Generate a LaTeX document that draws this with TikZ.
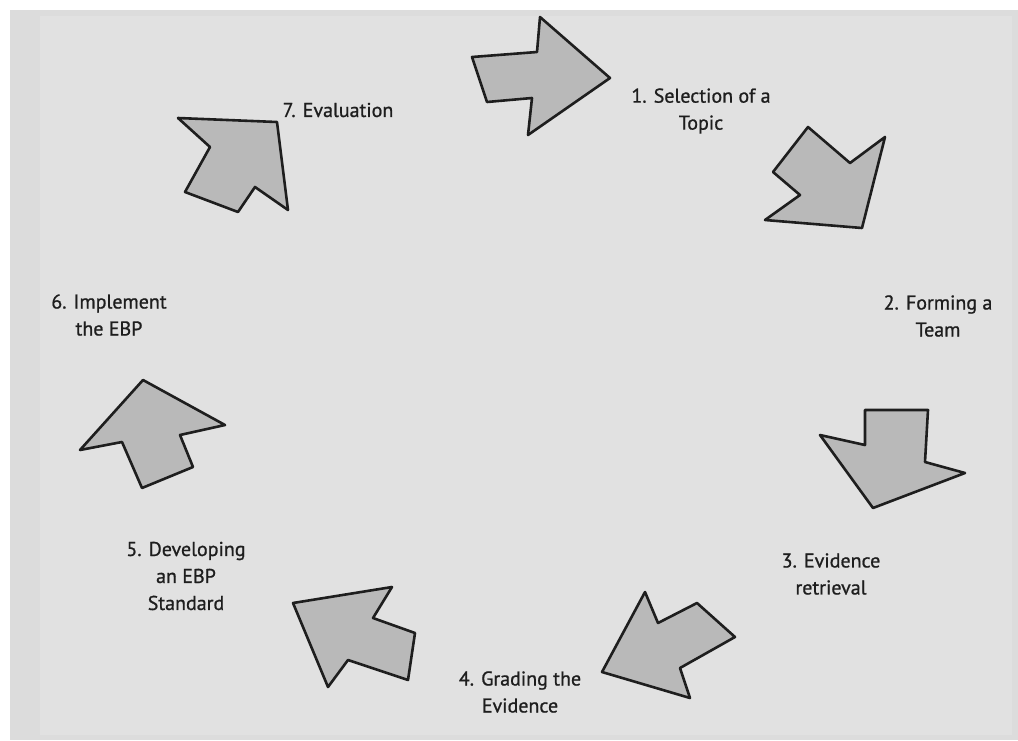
\documentclass[tikz,border=0pt]{standalone}
\usepackage{fontspec}
\setmainfont{PT Sans}
\newfontfamily\lblfont{PT Sans}[FakeBold=0.9]
\definecolor{panel}{HTML}{DCDCDC}
\definecolor{inner}{HTML}{E1E1E1}
\definecolor{arrowfill}{HTML}{B9B9B9}
\definecolor{ink}{HTML}{1E1E1E}
\begin{document}
\begin{tikzpicture}[x=1pt,y=-1pt,
  blockarrow/.style={fill=arrowfill,draw=ink,line width=2.6pt,line join=round},
  lbl/.style={text=ink,font=\lblfont\fontsize{20}{27}\selectfont,align=center,inner sep=0pt}]
\useasboundingbox (0,0) rectangle (1018,740);
\fill[white] (0,0) rectangle (1018,740);
\fill[panel] (10,10) rectangle (1018,740);
\fill[inner] (40,16) rectangle (1012,735);
% arrow 1
\draw[blockarrow] (472,57) -- (537,52) -- (540,17) -- (610,78) -- (528,135) -- (532,98) -- (487,102) -- cycle;
% arrow 2
\draw[blockarrow] (808,127) -- (850,163) -- (885,137) -- (862,228) -- (765,220) -- (800,195) -- (773,172) -- cycle;
% arrow 3
\draw[blockarrow] (865,410) -- (928,410) -- (925,462) -- (965,473) -- (873,508) -- (820,435) -- (865,445) -- cycle;
% arrow 4
\draw[blockarrow] (697,603) -- (735,637) -- (680,668) -- (690,698) -- (602,672) -- (645,592) -- (658,623) -- cycle;
% arrow 5
\draw[blockarrow] (415,633) -- (408,680) -- (348,660) -- (328,687) -- (293,603) -- (392,587) -- (373,618) -- cycle;
% arrow 6
\draw[blockarrow] (193,467) -- (142,488) -- (122,442) -- (80,450) -- (143,380) -- (225,425) -- (180,435) -- cycle;
% arrow 7
\draw[blockarrow] (238,212) -- (185,192) -- (210,147) -- (178,118) -- (277,122) -- (288,210) -- (255,187) -- cycle;
% labels
\node[lbl] (t1) at (701,111) {1. Selection of a\\Topic};
\node[lbl] (t2) at (938,316) {2. Forming a\\Team};
\node[lbl] (t3) at (831,574) {3. Evidence\\retrieval};
\node[lbl] (t4) at (520,692) {4. Grading the\\Evidence};
\node[lbl] (t5) at (186,576) {5. Developing\\an EBP\\Standard};
\node[lbl] (t6) at (109,315) {6. Implement\\the EBP};
\node[lbl] (t7) at (338,110) {7. Evaluation};
\end{tikzpicture}
\end{document}
